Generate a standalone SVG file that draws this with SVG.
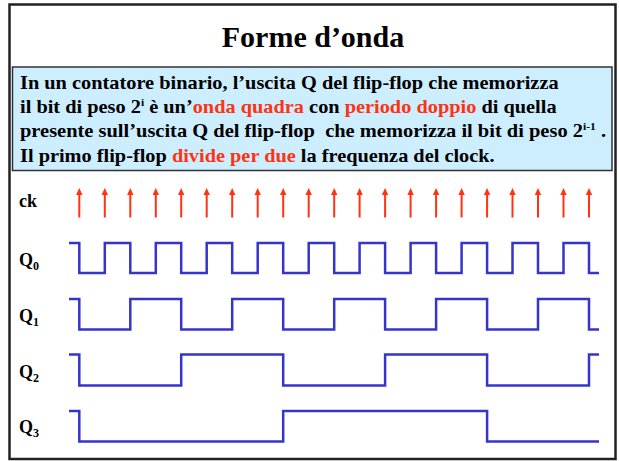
<svg xmlns="http://www.w3.org/2000/svg" width="619" height="461" viewBox="0 0 619 461">
<style>
.t{font-family:"Liberation Serif","Times New Roman",serif;font-weight:bold;fill:#000}
.body{font-size:19.5px;white-space:pre}
.red{fill:#ff3311}
.lab{font-size:18px}
.sub{font-size:12px}
.wave{fill:none;stroke:#3535cc;stroke-width:2.5;stroke-linejoin:miter}
.ck{stroke:#ff3311;stroke-width:2}
</style>
<defs>
<marker id="ah" markerUnits="userSpaceOnUse" viewBox="0 -3.5 7 7" markerWidth="7" markerHeight="7" refX="0" refY="0" orient="auto">
<path d="M0,-3.2 L7,0 L0,3.2 z" fill="#ff3311"/>
</marker>
</defs>
<rect x="9.5" y="4.5" width="606" height="454.5" fill="#fff" stroke="#222" stroke-width="2.5"/>
<text class="t" x="313" y="47" font-size="30" text-anchor="middle">Forme d’onda</text>
<g id="note">
<rect x="12.5" y="67" width="599.5" height="103.5" fill="#cceeff" stroke="#333" stroke-width="1.5"/>
<text class="t body" x="20" y="88.7" textLength="538.6" lengthAdjust="spacingAndGlyphs">In un contatore binario, l’uscita Q del flip-flop che memorizza</text>
<text class="t body" x="20" y="113" textLength="536.6" lengthAdjust="spacingAndGlyphs">il bit di peso 2<tspan font-size="11" dy="-7">i</tspan><tspan dy="7"> è un’</tspan><tspan class="red">onda quadra</tspan> con <tspan class="red">periodo doppio</tspan> di quella</text>
<text class="t body" x="20" y="137.3" textLength="586" lengthAdjust="spacingAndGlyphs">presente sull’uscita Q del flip-flop  che memorizza il bit di peso 2<tspan font-size="11" dy="-7">i-1</tspan><tspan dy="7"> .</tspan></text>
<text class="t body" x="20" y="161.7" textLength="474.7" lengthAdjust="spacingAndGlyphs">Il primo flip-flop <tspan class="red">divide per due</tspan> la frequenza del clock.</text>
</g>
<g id="labels">
<text class="t lab" x="19" y="207">ck</text>
<text class="t lab" x="19" y="266">Q<tspan class="sub" dy="4">0</tspan></text>
<text class="t lab" x="19" y="322">Q<tspan class="sub" dy="4">1</tspan></text>
<text class="t lab" x="19" y="378">Q<tspan class="sub" dy="4">2</tspan></text>
<text class="t lab" x="19" y="433">Q<tspan class="sub" dy="4">3</tspan></text>
</g>
<g id="clock" class="ck" marker-end="url(#ah)">
<line x1="79.3" y1="217.5" x2="79.3" y2="195"/>
<line x1="104.8" y1="217.5" x2="104.8" y2="195"/>
<line x1="130.3" y1="217.5" x2="130.3" y2="195"/>
<line x1="155.8" y1="217.5" x2="155.8" y2="195"/>
<line x1="181.2" y1="217.5" x2="181.2" y2="195"/>
<line x1="206.7" y1="217.5" x2="206.7" y2="195"/>
<line x1="232.2" y1="217.5" x2="232.2" y2="195"/>
<line x1="257.7" y1="217.5" x2="257.7" y2="195"/>
<line x1="283.2" y1="217.5" x2="283.2" y2="195"/>
<line x1="308.7" y1="217.5" x2="308.7" y2="195"/>
<line x1="334.2" y1="217.5" x2="334.2" y2="195"/>
<line x1="359.6" y1="217.5" x2="359.6" y2="195"/>
<line x1="385.1" y1="217.5" x2="385.1" y2="195"/>
<line x1="410.6" y1="217.5" x2="410.6" y2="195"/>
<line x1="436.1" y1="217.5" x2="436.1" y2="195"/>
<line x1="461.6" y1="217.5" x2="461.6" y2="195"/>
<line x1="487.1" y1="217.5" x2="487.1" y2="195"/>
<line x1="512.5" y1="217.5" x2="512.5" y2="195"/>
<line x1="538" y1="217.5" x2="538" y2="195"/>
<line x1="563.5" y1="217.5" x2="563.5" y2="195"/>
<line x1="589" y1="217.5" x2="589" y2="195"/>
</g>
<g id="waves">
<path id="q0" class="wave" d="M69,243 H79.3 V273 H104.8 V243 H130.3 V273 H155.8 V243 H181.2 V273 H206.7 V243 H232.2 V273 H257.7 V243 H283.2 V273 H308.7 V243 H334.2 V273 H359.6 V243 H385.1 V273 H410.6 V243 H436.1 V273 H461.6 V243 H487.1 V273 H512.5 V243 H538 V273 H563.5 V243 H589 V273 H599"/>
<path id="q1" class="wave" d="M69,299 H79.3 V329.5 H130.3 V299 H181.2 V329.5 H232.2 V299 H283.2 V329.5 H334.2 V299 H385.1 V329.5 H436.1 V299 H487.1 V329.5 H538 V299 H589 V329.5 H599"/>
<path id="q2" class="wave" d="M69,354.5 H79.3 V385.5 H181.2 V354.5 H283.2 V385.5 H385.1 V354.5 H487.1 V385.5 H589 V354.5 H599"/>
<path id="q3" class="wave" d="M69,411 H79.3 V441.5 H283.2 V411 H487.1 V441.5 H599"/>
</g>
</svg>
